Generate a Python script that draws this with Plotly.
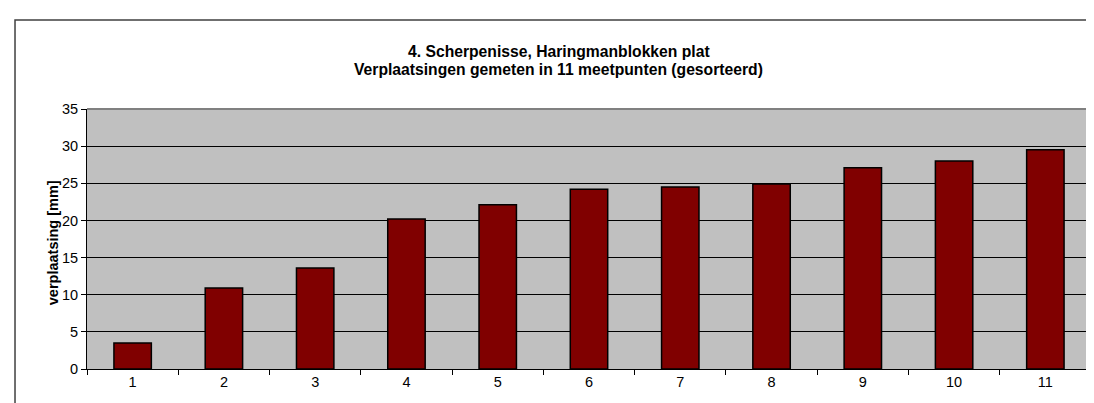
import plotly.graph_objects as go

# meetpunten (gesorteerd) en verplaatsingen [mm]
punten = ["1", "2", "3", "4", "5", "6", "7", "8", "9", "10", "11"]
verplaatsing = [3.5, 10.9, 13.6, 20.2, 22.1, 24.2, 24.5, 24.9, 27.1, 28.0, 29.5]

titel_1 = "4. Scherpenisse, Haringmanblokken plat"
titel_2 = "Verplaatsingen gemeten in 11 meetpunten (gesorteerd)"
y_titel = "verplaatsing [mm]"

fnt = "Liberation Sans, Arial, sans-serif"

fig = go.Figure(
    data=[go.Bar(x=punten, y=verplaatsing,
                 marker=dict(color="#800000", line=dict(color="black", width=1.5)))],
    layout=go.Layout(
        width=1094, height=403,
        margin=dict(l=79, r=11, t=101, b=42),
        paper_bgcolor="white",
        plot_bgcolor="#C0C0C0",
        bargap=0.59,
        showlegend=False,
        font=dict(family=fnt, size=14, color="black"),
    ),
)

fig.update_xaxes(type="category", tickson="boundaries", ticks="outside", ticklen=5,
                 tickcolor="black", showline=True, linecolor="black", linewidth=1,
                 showgrid=False, tickfont=dict(size=14.5))
fig.update_yaxes(range=[0, 35], dtick=5, ticks="outside", ticklen=5, tickcolor="black",
                 showline=True, linecolor="black", linewidth=1, showgrid=True,
                 gridcolor="black", gridwidth=1, zeroline=False, tickfont=dict(size=14.5))

# titels als annotaties
fig.add_annotation(text="<b>%s</b>" % titel_1, xref="paper", yref="paper",
                   x=0.4701, y=1.260, showarrow=False, font=dict(size=15.7))
fig.add_annotation(text="<b>%s</b>" % titel_2, xref="paper", yref="paper",
                   x=0.4701, y=1.192, showarrow=False, font=dict(size=15.7))
fig.add_annotation(text="<b>%s</b>" % y_titel, xref="paper", yref="paper",
                   x=-0.0435, y=0.485, textangle=-90, showarrow=False, font=dict(size=14.5))

# grijze rand boven en rechts van het plotvlak
fig.add_shape(type="line", xref="paper", yref="paper", x0=0, x1=1, y0=1, y1=1,
              line=dict(color="#808080", width=2))
fig.add_shape(type="line", xref="paper", yref="paper", x0=1, x1=1, y0=0, y1=1,
              line=dict(color="#808080", width=2))
# kader rond de grafiek (rechts en onder buiten beeld)
fig.add_shape(type="rect", xref="paper", yref="paper", x0=-0.0717, x1=1.2, y0=-0.5, y1=1.342,
              line=dict(color="#404040", width=1.5))

fig.write_html("out.html")
